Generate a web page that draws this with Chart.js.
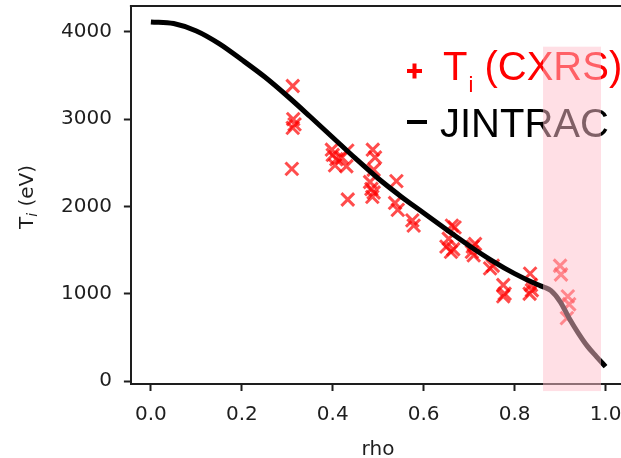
<!DOCTYPE html>
<html><head><meta charset="utf-8">
<script src="https://cdn.jsdelivr.net/npm/chart.js@4"></script>
<style>html,body{margin:0;padding:0;background:#fff;overflow:hidden}</style>
</head><body>
<canvas id="c" width="621" height="458" style="width:621px;height:458px;display:block"></canvas>
<script>
// ---- data ----
const cxrsRho = [0.312, 0.313, 0.316, 0.312, 0.310,
  0.398, 0.400, 0.408, 0.405, 0.430, 0.432, 0.420, 0.433,
  0.488, 0.493, 0.490, 0.482, 0.485, 0.490, 0.487,
  0.540, 0.537, 0.543, 0.575, 0.578,
  0.662, 0.668, 0.655, 0.650, 0.665, 0.660,
  0.708, 0.713, 0.710, 0.706,
  0.752, 0.746,
  0.775, 0.778, 0.775,
  0.834, 0.836, 0.833, 0.838,
  0.900, 0.902, 0.917, 0.920, 0.915];
const cxrsTi = [3380, 3000, 2940, 2900, 2430,
  2650, 2590, 2540, 2470, 2460, 2640, 2560, 2080,
  2650, 2560, 2420, 2280, 2200, 2160, 2110,
  2290, 2040, 1960, 1840, 1780,
  1780, 1760, 1630, 1540, 1510, 1480,
  1540, 1570, 1440, 1480,
  1320, 1290,
  1100, 1000, 970,
  1230, 1100, 1000, 1040,
  1320, 1220, 970, 880, 720];
const modelRho = [0, 0.05, 0.1, 0.15, 0.2, 0.25, 0.3, 0.35, 0.4, 0.45, 0.5, 0.55, 0.6, 0.65, 0.7, 0.75, 0.8, 0.85, 0.865, 0.88, 0.9, 0.92, 0.94, 0.96, 0.98, 1.0];
const modelTi  = [4114, 4095, 4010, 3865, 3680, 3485, 3265, 3030, 2790, 2550, 2320, 2115, 1925, 1735, 1550, 1380, 1230, 1105, 1075, 1035, 910, 720, 550, 400, 280, 165];
const xTicks = [0, 0.2, 0.4, 0.6, 0.8, 1.0];
const yTicks = [0, 1000, 2000, 3000, 4000];
const xRange = [-0.044, 1.034];
const yRange = [-34, 4296];
const shadeRho = [0.8625, 0.99];
const shadeTi = [-115, 3830];
const legendCxrs = ['T', 'i', ' (CXRS)'];
const legendModel = 'JINTRAC';
const xTitle = 'rho';
const yTitle = ['T', 'i', ' (eV)'];

const AX = '#1e1e1e';
const overlay = {
  id: 'overlay',
  afterDatasetsDraw(chart) {
    const ctx = chart.ctx, a = chart.chartArea;
    ctx.save();
    // top spine
    ctx.strokeStyle = AX; ctx.lineWidth = 2;
    ctx.beginPath(); ctx.moveTo(a.left - 1, a.top); ctx.lineTo(a.right, a.top); ctx.stroke();
    // legend
    ctx.lineWidth = 4; ctx.strokeStyle = 'red';
    ctx.beginPath(); ctx.moveTo(407, 71); ctx.lineTo(422, 71); ctx.moveTo(414.5, 63.5); ctx.lineTo(414.5, 78.5); ctx.stroke();
    ctx.strokeStyle = 'black';
    ctx.beginPath(); ctx.moveTo(407, 122); ctx.lineTo(427, 122); ctx.stroke();
    ctx.textBaseline = 'alphabetic'; ctx.textAlign = 'left';
    ctx.fillStyle = 'red';
    let x = 443;
    ctx.font = '40px "Liberation Sans"'; ctx.fillText(legendCxrs[0], x, 80); x += ctx.measureText(legendCxrs[0]).width + 1;
    ctx.font = '22px "Liberation Sans"'; ctx.fillText(legendCxrs[1], x, 92); x += ctx.measureText(legendCxrs[1]).width;
    ctx.font = '40px "Liberation Sans"'; ctx.fillText(legendCxrs[2], x, 80);
    ctx.fillStyle = 'black';
    ctx.fillText(legendModel, 440, 137);
    ctx.restore();
  },
  afterDraw(chart) {
    const ctx = chart.ctx, xs = chart.scales.x, ys = chart.scales.y;
    ctx.save();
    ctx.fillStyle = AX; ctx.textBaseline = 'alphabetic';
    // x title
    ctx.font = '20px "DejaVu Sans"'; ctx.textAlign = 'center';
    ctx.fillText(xTitle, 378, 455);
    // y title
    ctx.translate(33, 197); ctx.rotate(-Math.PI / 2); ctx.textAlign = 'left';
    const f1 = '20px "DejaVu Sans"', f2 = 'italic 14px "DejaVu Sans"';
    ctx.font = f1; const w0 = ctx.measureText(yTitle[0]).width, w2 = ctx.measureText(yTitle[2]).width;
    ctx.font = f2; const w1 = ctx.measureText(yTitle[1]).width;
    let x = -(w0 + w1 + w2) / 2;
    ctx.font = f1; ctx.fillText(yTitle[0], x, 0); x += w0;
    ctx.font = f2; ctx.fillText(yTitle[1], x, 4); x += w1;
    ctx.font = f1; ctx.fillText(yTitle[2], x, 0);
    ctx.restore();
    // shaded region (drawn over everything)
    ctx.save();
    const x0 = xs.getPixelForValue(shadeRho[0]), x1 = xs.getPixelForValue(shadeRho[1]);
    const y0 = ys.getPixelForValue(shadeTi[1]), y1 = ys.getPixelForValue(shadeTi[0]);
    ctx.fillStyle = 'rgba(255,192,203,0.5)';
    ctx.fillRect(x0, y0, x1 - x0, y1 - y0);
    ctx.restore();
  }
};

new Chart(document.getElementById('c'), {
  type: 'scatter',
  data: {
    datasets: [
      {
        label: legendModel,
        data: modelRho.map((r, i) => ({x: r, y: modelTi[i]})),
        showLine: true, borderColor: 'black', borderWidth: 5, pointRadius: 0,
        cubicInterpolationMode: 'monotone', fill: false, order: 0, borderCapStyle: 'butt'
      },
      {
        label: legendCxrs.join(''),
        data: cxrsRho.map((r, i) => ({x: r, y: cxrsTi[i]})),
        pointStyle: 'crossRot', pointRadius: 9, pointBorderWidth: 3,
        borderColor: 'rgba(255,0,0,0.7)', backgroundColor: 'rgba(255,0,0,0.7)', order: 1
      }
    ]
  },
  options: {
    responsive: false, animation: false, devicePixelRatio: 1,
    layout: {autoPadding: false, padding: {top: 6, right: 0, left: 49, bottom: 19}},
    plugins: {legend: {display: false}, tooltip: {enabled: false}},
    scales: {
      x: {
        type: 'linear', position: 'bottom', min: xRange[0], max: xRange[1],
        afterBuildTicks: s => { s.ticks = xTicks.map(v => ({value: v})); },
        afterFit: s => { s.paddingLeft = 0; s.paddingRight = 0; s.paddingTop = 0; s.paddingBottom = 0; },
        ticks: {callback: v => Number(v).toFixed(1), font: {family: 'DejaVu Sans', size: 20, lineHeight: 1.2}, color: AX, padding: 12, maxRotation: 0, autoSkip: false},
        grid: {display: true, drawOnChartArea: false, drawTicks: true, tickLength: 7, tickWidth: 2, tickColor: AX},
        border: {display: true, color: AX, width: 2}
      },
      y: {
        type: 'linear', position: 'left', min: yRange[0], max: yRange[1],
        afterBuildTicks: s => { s.ticks = yTicks.map(v => ({value: v})); },
        afterFit: s => { s.paddingLeft = 0; s.paddingRight = 0; s.paddingTop = 0; s.paddingBottom = 0; },
        ticks: {callback: v => String(v), font: {family: 'DejaVu Sans', size: 20}, color: AX, padding: 12, autoSkip: false},
        grid: {display: true, drawOnChartArea: false, drawTicks: true, tickLength: 7, tickWidth: 2, tickColor: AX},
        border: {display: true, color: AX, width: 2}
      }
    }
  },
  plugins: [overlay]
});
</script>
</body></html>
